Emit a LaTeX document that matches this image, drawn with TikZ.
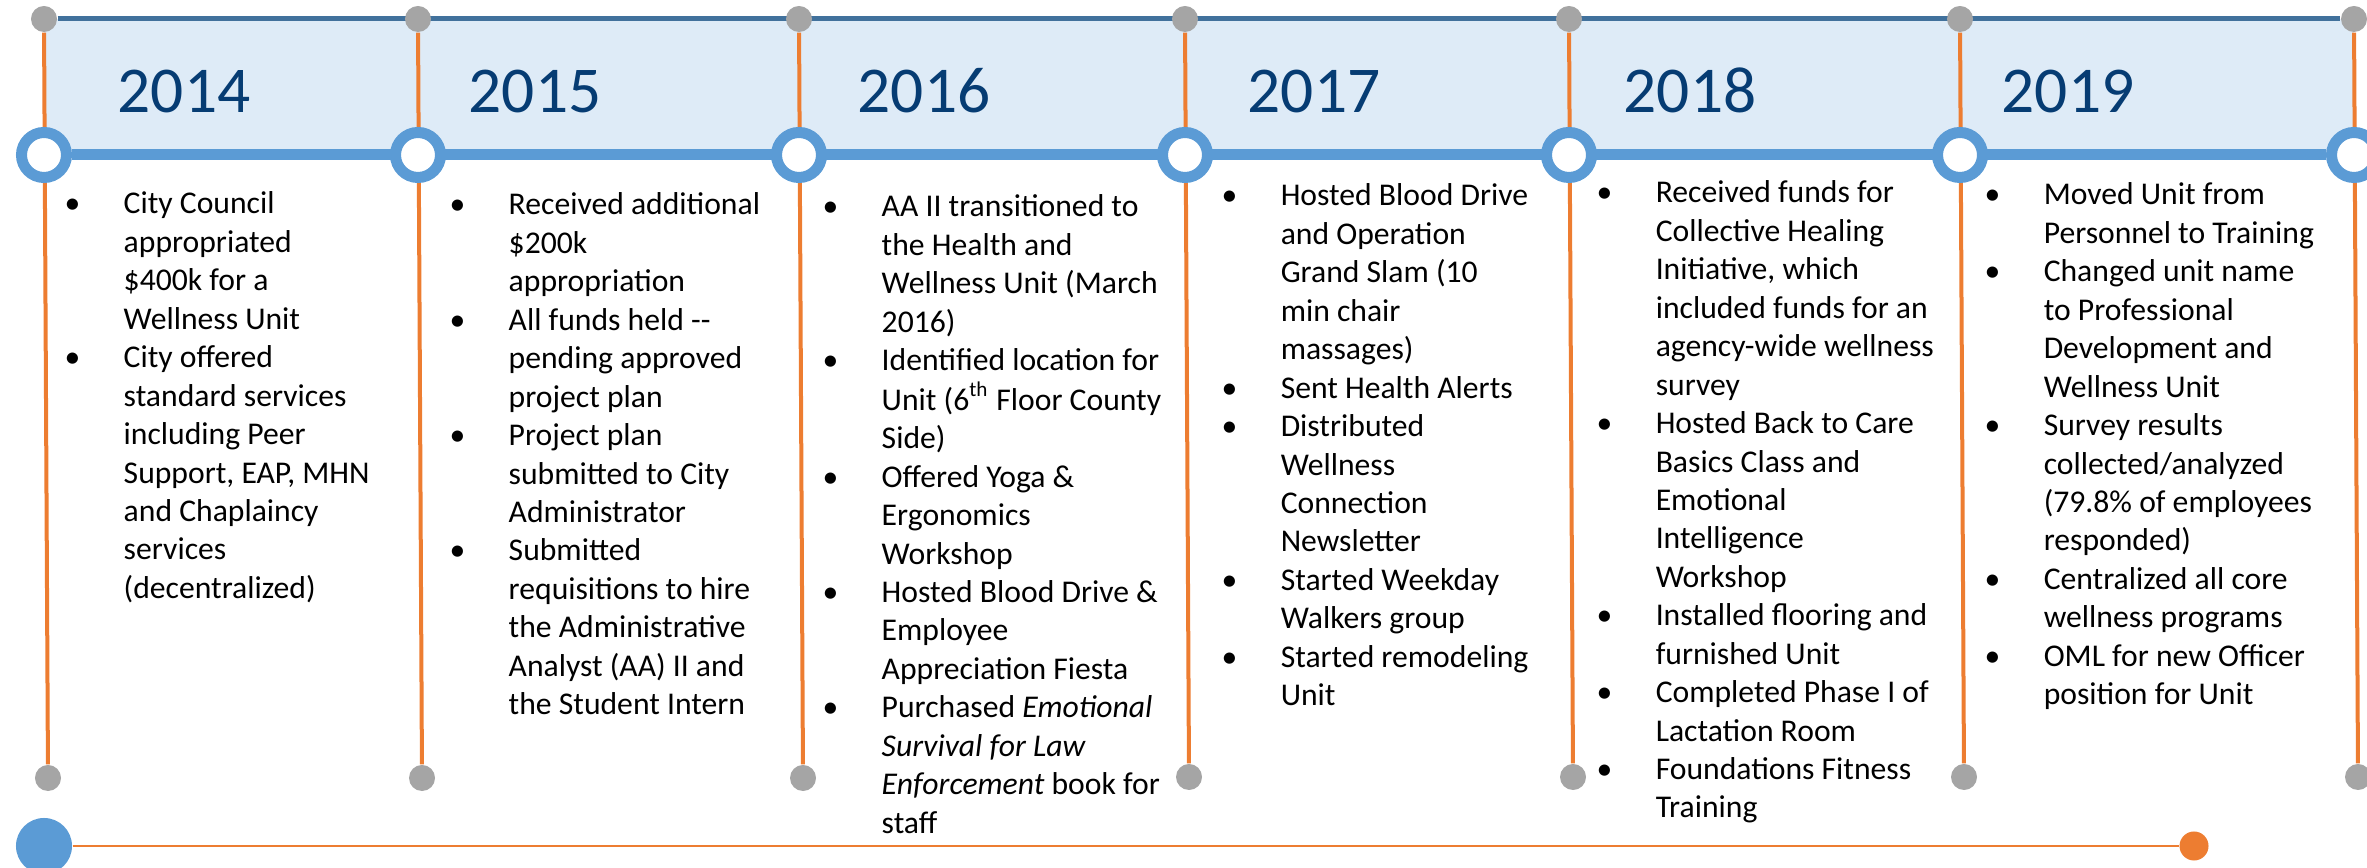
\documentclass[tikz,border=0pt]{standalone}
\usepackage{fontspec}
\setmainfont{Carlito}
\usetikzlibrary{backgrounds}

\definecolor{bandfill}{HTML}{DEEBF7}
\definecolor{bandedge}{HTML}{41719C}
\definecolor{ringblue}{HTML}{5B9BD5}
\definecolor{tickorange}{HTML}{ED7D31}
\definecolor{pingray}{HTML}{A5A5A5}
\definecolor{yearblue}{HTML}{063C73}

\begin{document}
\begin{tikzpicture}[x=0.01cm, y=-0.01cm,
        pin/.style={circle, fill=pingray, inner sep=0pt, minimum size=0.26cm},
        ring/.style={circle, draw=ringblue, line width=0.11cm, fill=white, inner sep=0pt, minimum size=0.45cm},
        tick/.style={draw=tickorange, line width=0.04cm},
        year/.style={anchor=base west, inner sep=0pt, text=yearblue, font=\fontsize{18.6}{22}\selectfont},
        notes/.style={anchor=base west, inner sep=0pt, font=\fontsize{9}{10.93}\selectfont}]

        \useasboundingbox (0,0) rectangle (2367,868);

        % pins on top and bottom of every tick
        \node[pin] (t14) at (44,19) {};
        \node[pin] (t15) at (418,19) {};
        \node[pin] (t16) at (799,19) {};
        \node[pin] (t17) at (1185,19) {};
        \node[pin] (t18) at (1569,19) {};
        \node[pin] (t19) at (1960,19) {};
        \node[pin] (t20) at (2354,19) {};

        \node[pin] (b14) at (48,778) {};
        \node[pin] (b15) at (422,778) {};
        \node[pin] (b16) at (803,778) {};
        \node[pin] (b17) at (1189,777) {};
        \node[pin] (b18) at (1573,777) {};
        \node[pin] (b19) at (1964,777) {};
        \node[pin] (b20) at (2358,777) {};

        \draw[tick] (t14) -- (b14);
        \draw[tick] (t15) -- (b15);
        \draw[tick] (t16) -- (b16);
        \draw[tick] (t17) -- (b17);
        \draw[tick] (t18) -- (b18);
        \draw[tick] (t19) -- (b19);
        \draw[tick] (t20) -- (b20);

        % markers on the band
        \node[ring] (r14) at (44,155) {};
        \node[ring] (r15) at (418,155) {};
        \node[ring] (r16) at (799,155) {};
        \node[ring] (r17) at (1185,155) {};
        \node[ring] (r18) at (1569,155) {};
        \node[ring] (r19) at (1960,155) {};
        \node[ring] (r20) at (2354,155) {};

        \begin{pgfonlayer}{background}
            \fill[bandfill] (t14.center) rectangle (r20.center);
            \draw[bandedge, line width=0.05cm] (t14) -- (t20);
            \draw[ringblue, line width=0.11cm] (r14) -- (r20);
        \end{pgfonlayer}

        \node[year] (y14) at (117,113) {2014};
        \node[year] (y15) at (468,113) {2015};
        \node[year] (y16) at (857,113) {2016};
        \node[year] (y17) at (1247,113) {2017};
        \node[year] (y18) at (1623,113) {2018};
        \node[year] (y19) at (2001,113) {2019};

        \node[notes] (n14) at (64,214) {\begin{tabular}[t]{@{}p{0.59cm}@{}l@{}}
            \textbullet & City Council\\ & appropriated\\ & \$400k for a\\ & Wellness Unit\\
            \textbullet & City offered\\ & standard services\\ & including Peer\\ & Support, EAP, MHN\\ & and Chaplaincy\\ & services\\ & (decentralized)
        \end{tabular}};

        \node[notes] (n15) at (449,215) {\begin{tabular}[t]{@{}p{0.59cm}@{}l@{}}
            \textbullet & Received additional\\ & \$200k\\ & appropriation\\
            \textbullet & All funds held {-}{-}\\ & pending approved\\ & project plan\\
            \textbullet & Project plan\\ & submitted to City\\ & Administrator\\
            \textbullet & Submitted\\ & requisitions to hire\\ & the Administrative\\ & Analyst (AA) II and\\ & the Student Intern
        \end{tabular}};

        \node[notes] (n16) at (822,217) {\begin{tabular}[t]{@{}p{0.59cm}@{}l@{}}
            \textbullet & AA II transitioned to\\ & the Health and\\ & Wellness Unit (March\\ & 2016)\\
            \textbullet & Identified location for\\ & Unit (6\textsuperscript{th} Floor County\\ & Side)\\
            \textbullet & Offered Yoga \&\\ & Ergonomics\\ & Workshop\\
            \textbullet & Hosted Blood Drive \&\\ & Employee\\ & Appreciation Fiesta\\
            \textbullet & Purchased \textit{Emotional}\\ & \textit{Survival for Law}\\ & \textit{Enforcement} book for\\ & staff
        \end{tabular}};

        \node[notes] (n17) at (1221,206) {\begin{tabular}[t]{@{}p{0.59cm}@{}l@{}}
            \textbullet & Hosted Blood Drive\\ & and Operation\\ & Grand Slam (10\\ & min chair\\ & massages)\\
            \textbullet & Sent Health Alerts\\
            \textbullet & Distributed\\ & Wellness\\ & Connection\\ & Newsletter\\
            \textbullet & Started Weekday\\ & Walkers group\\
            \textbullet & Started remodeling\\ & Unit
        \end{tabular}};

        \node[notes] (n18) at (1596,203) {\begin{tabular}[t]{@{}p{0.59cm}@{}l@{}}
            \textbullet & Received funds for\\ & Collective Healing\\ & Initiative, which\\ & included funds for an\\ & agency-wide wellness\\ & survey\\
            \textbullet & Hosted Back to Care\\ & Basics Class and\\ & Emotional\\ & Intelligence\\ & Workshop\\
            \textbullet & Installed flooring and\\ & furnished Unit\\
            \textbullet & Completed Phase I of\\ & Lactation Room\\
            \textbullet & Foundations Fitness\\ & Training
        \end{tabular}};

        \node[notes] (n19) at (1984,205) {\begin{tabular}[t]{@{}p{0.59cm}@{}l@{}}
            \textbullet & Moved Unit from\\ & Personnel to Training\\
            \textbullet & Changed unit name\\ & to Professional\\ & Development and\\ & Wellness Unit\\
            \textbullet & Survey results\\ & collected/analyzed\\ & (79.8\% of employees\\ & responded)\\
            \textbullet & Centralized all core\\ & wellness programs\\
            \textbullet & OML for new Officer\\ & position for Unit
        \end{tabular}};

        % running line along the bottom
        \node[circle, fill=ringblue, inner sep=0pt, minimum size=0.56cm] (start) at (44,846) {};
        \node[circle, fill=tickorange, inner sep=0pt, minimum size=0.29cm] (finish) at (2194,846) {};
        \draw[tickorange, line width=0.025cm] (start) -- (finish);

\end{tikzpicture}
\end{document}
